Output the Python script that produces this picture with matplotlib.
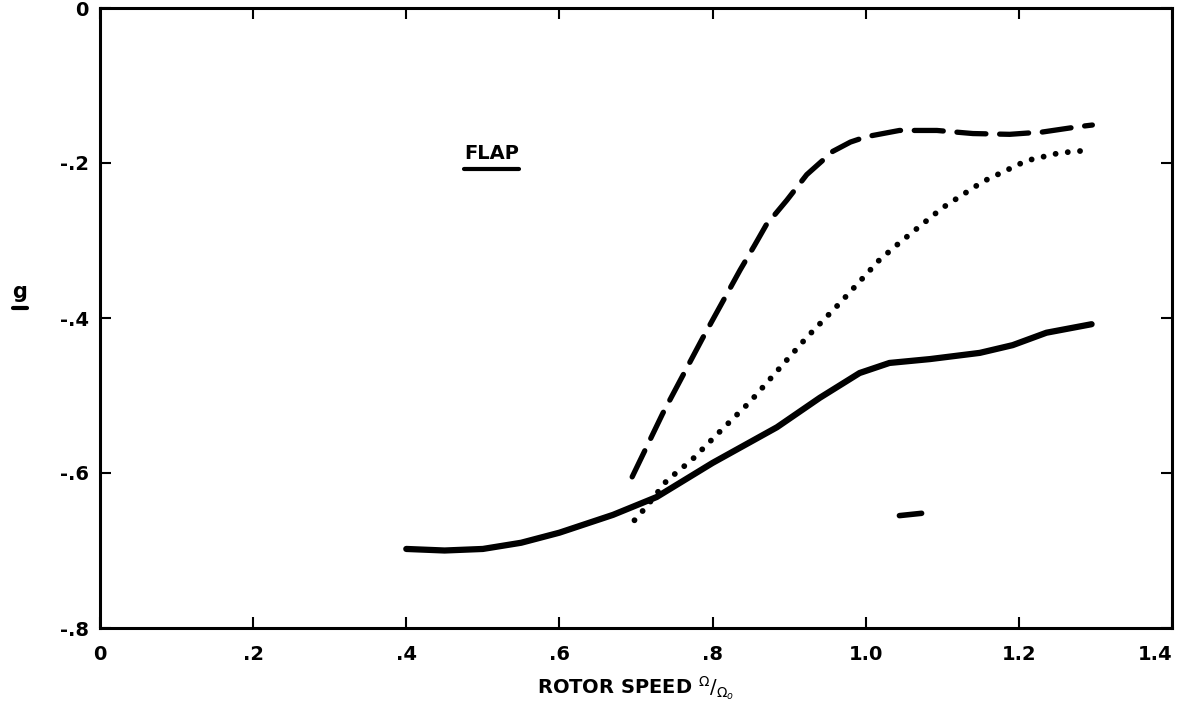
import matplotlib
matplotlib.use("Agg")
import matplotlib.pyplot as plt
from matplotlib.lines import Line2D

# Flap damping vs rotor speed
solid_x = [0.40, 0.45, 0.50, 0.55, 0.60, 0.67, 0.727, 0.80, 0.884, 0.94, 0.992, 1.031, 1.084, 1.149, 1.192, 1.236, 1.295]
solid_y = [-0.698, -0.700, -0.698, -0.690, -0.677, -0.654, -0.631, -0.587, -0.541, -0.503, -0.471, -0.458, -0.453, -0.445, -0.435, -0.419, -0.408]

dash_x = [0.695, 0.735, 0.787, 0.836, 0.855, 0.87, 0.897, 0.923, 0.957, 0.98, 1.001, 1.044, 1.093, 1.14, 1.188, 1.231, 1.279, 1.296]
dash_y = [-0.605, -0.523, -0.426, -0.338, -0.306, -0.280, -0.248, -0.215, -0.185, -0.173, -0.166, -0.158, -0.158, -0.162, -0.163, -0.160, -0.153, -0.151]

dot_x = [0.698, 0.714, 0.74, 0.773, 0.805, 0.849, 0.923, 0.966, 1.018, 1.044, 1.10, 1.153, 1.21, 1.253, 1.286]
dot_y = [-0.661, -0.643, -0.610, -0.583, -0.551, -0.508, -0.425, -0.381, -0.325, -0.303, -0.258, -0.224, -0.197, -0.187, -0.184]

stray_x = [1.044, 1.073]
stray_y = [-0.655, -0.652]

x_ticks = [0, 0.2, 0.4, 0.6, 0.8, 1.0, 1.2, 1.4]
x_tick_labels = ["0", ".2", ".4", ".6", ".8", "1.0", "1.2", "1.4"]
y_ticks = [0, -0.2, -0.4, -0.6, -0.8]
y_tick_labels = ["0", "-.2", "-.4", "-.6", "-.8"]

W, H = 1186, 715
fig = plt.figure(figsize=(W / 100, H / 100), dpi=100)
ax = fig.add_axes([100 / W, 1 - 628 / H, (1172 - 100) / W, (628 - 8) / H])

ax.plot(solid_x, solid_y, color="black", lw=4.5, solid_capstyle="round", solid_joinstyle="round")
ax.plot(dash_x, dash_y, color="black", lw=3.8, dashes=(5.5, 2.6), dash_capstyle="round",
        dash_joinstyle="round")
ax.plot(dot_x, dot_y, color="black", lw=4.2, linestyle=(0, (0.01, 2.1)), dash_capstyle="round")
ax.plot(stray_x, stray_y, color="black", lw=4.0, solid_capstyle="round")

ax.set_xlim(0, 1.4)
ax.set_ylim(-0.8, 0)
ax.set_xticks(x_ticks)
ax.set_xticklabels(x_tick_labels)
ax.set_yticks(y_ticks)
ax.set_yticklabels(y_tick_labels)

for s in ax.spines.values():
    s.set_linewidth(2.2)

ax.tick_params(axis="both", which="both", direction="in", length=8, width=1.5,
               top=True, right=True, labelsize=14, pad=8)
ax.tick_params(axis="x", pad=12)
for lab in ax.get_xticklabels() + ax.get_yticklabels():
    lab.set_fontweight("bold")
ax.get_xticklabels()[-1].set_horizontalalignment("right")

ax.set_xlabel(r"ROTOR SPEED $^{\Omega}/_{\Omega_{o}}$", fontsize=14, fontweight="bold", labelpad=8)

flap = ax.text(0.476, -0.2, "FLAP", fontsize=14, fontweight="bold", ha="left", va="bottom")
g = fig.text(20 / W, 1 - 292 / H, "g", fontsize=15, fontweight="bold", ha="center", va="center")

fig.canvas.draw()
renderer = fig.canvas.get_renderer()
for t, gap in ((flap, 6), (g, 6)):
    bb = t.get_window_extent(renderer)
    yline = bb.y0 - gap
    fig.add_artist(Line2D([bb.x0 / W, bb.x1 / W], [yline / H, yline / H],
                          transform=fig.transFigure, color="black", lw=3,
                          solid_capstyle="round"))

fig.savefig("out.png", dpi=100)
